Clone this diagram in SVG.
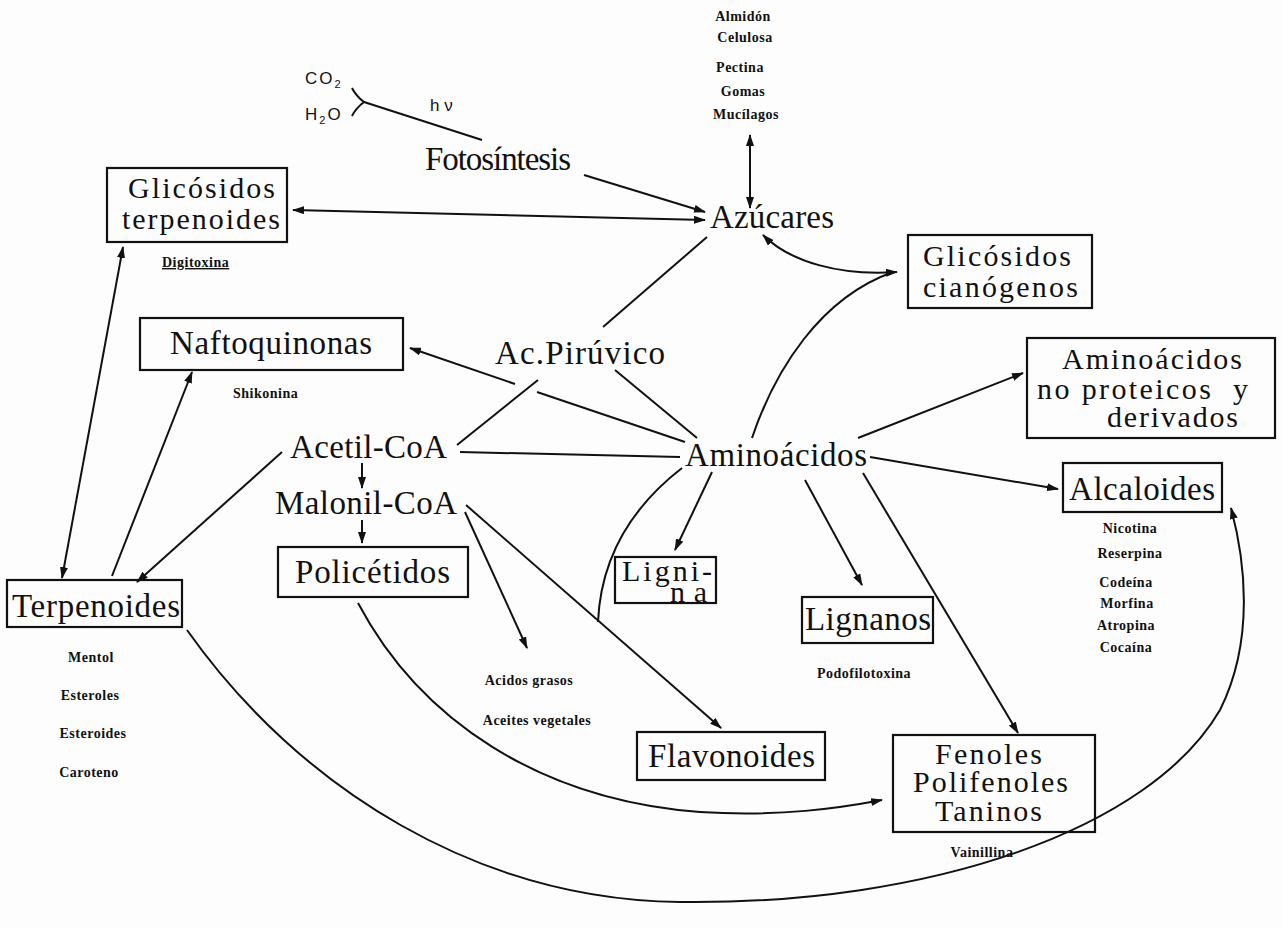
<svg xmlns="http://www.w3.org/2000/svg" width="1282" height="928" viewBox="0 0 1282 928">
<defs>
<marker id="ah" viewBox="0 0 12 8" refX="11" refY="4" markerWidth="6" markerHeight="4" orient="auto-start-reverse" markerUnits="strokeWidth">
<path d="M0,0 L12,4 L0,8 z" fill="#111"/>
</marker>
<style>
.lbl{font-family:"Liberation Serif",serif;font-size:33px;fill:#111}
.ml{font-size:30px}
.sm{font-family:"Liberation Serif",serif;font-weight:bold;font-size:14px;letter-spacing:0.5px;fill:#111}
.ch{font-family:"Liberation Sans",sans-serif;font-size:17px;fill:#111}
.box{fill:none;stroke:#111;stroke-width:2.2}
.ln{fill:none;stroke:#111;stroke-width:2}
.arr{marker-end:url(#ah)}
.bi{marker-start:url(#ah);marker-end:url(#ah)}
</style>
</defs>
<rect width="1282" height="928" fill="#fdfdfd"/>

<g id="connectors">
<path class="ln" d="M352,88 Q356,96 364,102 M352,116 Q356,108 364,102 M364,102 L482,140"/>
<line class="ln arr" x1="584" y1="175" x2="705" y2="212"/>
<line class="ln bi" x1="293" y1="210" x2="705" y2="220"/>
<line class="ln bi" x1="750" y1="135" x2="750" y2="208"/>
<line class="ln" x1="707" y1="237" x2="603" y2="327"/>
<line class="ln" x1="615" y1="370" x2="697" y2="438"/>
<line class="ln" x1="538" y1="380" x2="457" y2="445"/>
<path class="ln arr" d="M685,442 L537,392 M515,384 L410,348"/>
<line class="ln" x1="460" y1="452" x2="680" y2="457"/>
<line class="ln arr" x1="362" y1="463" x2="362" y2="488"/>
<line class="ln arr" x1="362" y1="520" x2="362" y2="543"/>
<line class="ln arr" x1="282" y1="452" x2="137" y2="582"/>
<line class="ln bi" x1="62" y1="578" x2="123" y2="247"/>
<line class="ln arr" x1="112" y1="576" x2="192" y2="372"/>
<line class="ln arr" x1="465" y1="512" x2="527" y2="648"/>
<line class="ln arr" x1="466" y1="505" x2="721" y2="728"/>
<path class="ln" d="M682,468 Q602,530 598,622"/>
<path class="ln bi" d="M763,235 C790,262 840,276 897,272"/>
<path class="ln" d="M752,438 C775,370 820,298 893,272"/>
<line class="ln arr" x1="858" y1="438" x2="1023" y2="373"/>
<line class="ln arr" x1="870" y1="457" x2="1058" y2="489"/>
<line class="ln arr" x1="712" y1="472" x2="675" y2="550"/>
<line class="ln arr" x1="805" y1="480" x2="862" y2="585"/>
<line class="ln arr" x1="863" y1="473" x2="1018" y2="733"/>
<path class="ln arr" d="M358,603 C420,720 540,800 700,812 C780,817 840,808 882,800"/>
<path class="ln arr" d="M187,630 C300,790 480,900 680,902 C930,905 1150,830 1220,710 C1255,640 1245,560 1231,508"/>
</g>

<g id="photosynthesis-inputs">
<text class="ch" x="305" y="84" letter-spacing="2">CO<tspan font-size="11" dy="4">2</tspan></text>
<text class="ch" x="305" y="120" letter-spacing="2">H<tspan font-size="11" dy="4">2</tspan><tspan dy="-4">O</tspan></text>
<text class="ch" x="430" y="111" font-size="15">h ν</text>
</g>
<g id="fotosintesis"><text class="lbl" x="425" y="170" textLength="146">Fotosíntesis</text></g>
<g id="azucares"><text class="lbl" x="710" y="228" textLength="124">Azúcares</text></g>
<g id="polisacaridos">
<text class="sm" x="743" y="21" text-anchor="middle">Almidón</text>
<text class="sm" x="745" y="42" text-anchor="middle">Celulosa</text>
<text class="sm" x="740" y="72" text-anchor="middle">Pectina</text>
<text class="sm" x="743" y="96" text-anchor="middle">Gomas</text>
<text class="sm" x="746" y="119" text-anchor="middle">Mucílagos</text>
</g>
<g id="glicosidos-terpenoides">
<rect class="box" x="107" y="168" width="180" height="74"/>
<text class="lbl ml" x="128" y="198" textLength="147">Glicósidos</text>
<text class="lbl ml" x="122" y="229" textLength="158">terpenoides</text>
<text class="sm" x="162" y="267" text-decoration="underline">Digitoxina</text>
</g>
<g id="glicosidos-cianogenos">
<rect class="box" x="908" y="235" width="184" height="73"/>
<text class="lbl ml" x="923" y="266" textLength="148">Glicósidos</text>
<text class="lbl ml" x="923" y="297" textLength="155">cianógenos</text>
</g>
<g id="naftoquinonas">
<rect class="box" x="140" y="318" width="263" height="52"/>
<text class="lbl" x="170" y="354" textLength="202">Naftoquinonas</text>
<text class="sm" x="233" y="398">Shikonina</text>
</g>
<g id="ac-piruvico"><text class="lbl" x="495" y="364" textLength="170">Ac.Pirúvico</text></g>
<g id="acetil-coa"><text class="lbl" x="290" y="458" textLength="157">Acetil-CoA</text></g>
<g id="malonil-coa"><text class="lbl" x="275" y="514" textLength="182">Malonil-CoA</text></g>
<g id="policetidos">
<rect class="box" x="278" y="547" width="190" height="50"/>
<text class="lbl" x="295" y="583" textLength="155">Policétidos</text>
</g>
<g id="aminoacidos"><text class="lbl" x="685" y="466" textLength="182">Aminoácidos</text></g>
<g id="aminoacidos-no-proteicos">
<rect class="box" x="1027" y="338" width="248" height="100"/>
<text class="lbl ml" x="1062" y="369" textLength="180">Aminoácidos</text>
<text class="lbl ml" x="1037" y="399" textLength="211" xml:space="preserve">no proteicos  y</text>
<text class="lbl ml" x="1107" y="427" textLength="131">derivados</text>
</g>
<g id="alcaloides">
<rect class="box" x="1063" y="463" width="159" height="49"/>
<text class="lbl" x="1069" y="500" textLength="146">Alcaloides</text>
<text class="sm" x="1130" y="533" text-anchor="middle">Nicotina</text>
<text class="sm" x="1130" y="558" text-anchor="middle">Reserpina</text>
<text class="sm" x="1126" y="587" text-anchor="middle">Codeína</text>
<text class="sm" x="1127" y="608" text-anchor="middle">Morfina</text>
<text class="sm" x="1126" y="630" text-anchor="middle">Atropina</text>
<text class="sm" x="1126" y="652" text-anchor="middle">Cocaína</text>
</g>
<g id="terpenoides">
<rect class="box" x="7" y="580" width="175" height="47"/>
<text class="lbl" x="12" y="617" textLength="168" font-size="34">Terpenoides</text>
<text class="sm" x="91" y="662" text-anchor="middle">Mentol</text>
<text class="sm" x="90" y="700" text-anchor="middle">Esteroles</text>
<text class="sm" x="93" y="738" text-anchor="middle">Esteroides</text>
<text class="sm" x="89" y="777" text-anchor="middle">Caroteno</text>
</g>
<g id="lignina">
<rect class="box" x="615" y="557" width="101" height="46"/>
<text class="lbl ml" x="622" y="581" textLength="90">Ligni-</text>
<text class="lbl ml" x="670" y="602" textLength="37" font-size="26">na</text>
</g>
<g id="lignanos">
<rect class="box" x="802" y="597" width="131" height="46"/>
<text class="lbl" x="805" y="630" textLength="126">Lignanos</text>
<text class="sm" x="864" y="678" text-anchor="middle">Podofilotoxina</text>
</g>
<g id="acidos-grasos">
<text class="sm" x="529" y="685" text-anchor="middle">Acidos grasos</text>
<text class="sm" x="537" y="725" text-anchor="middle">Aceites vegetales</text>
</g>
<g id="flavonoides">
<rect class="box" x="637" y="732" width="188" height="48"/>
<text class="lbl" x="648" y="767" textLength="167">Flavonoides</text>
</g>
<g id="fenoles">
<rect class="box" x="893" y="735" width="202" height="97"/>
<text class="lbl ml" x="935" y="764" textLength="107">Fenoles</text>
<text class="lbl ml" x="913" y="792" textLength="155">Polifenoles</text>
<text class="lbl ml" x="935" y="821" textLength="107">Taninos</text>
<text class="sm" x="982" y="857" text-anchor="middle">Vainillina</text>
</g>
</svg>
